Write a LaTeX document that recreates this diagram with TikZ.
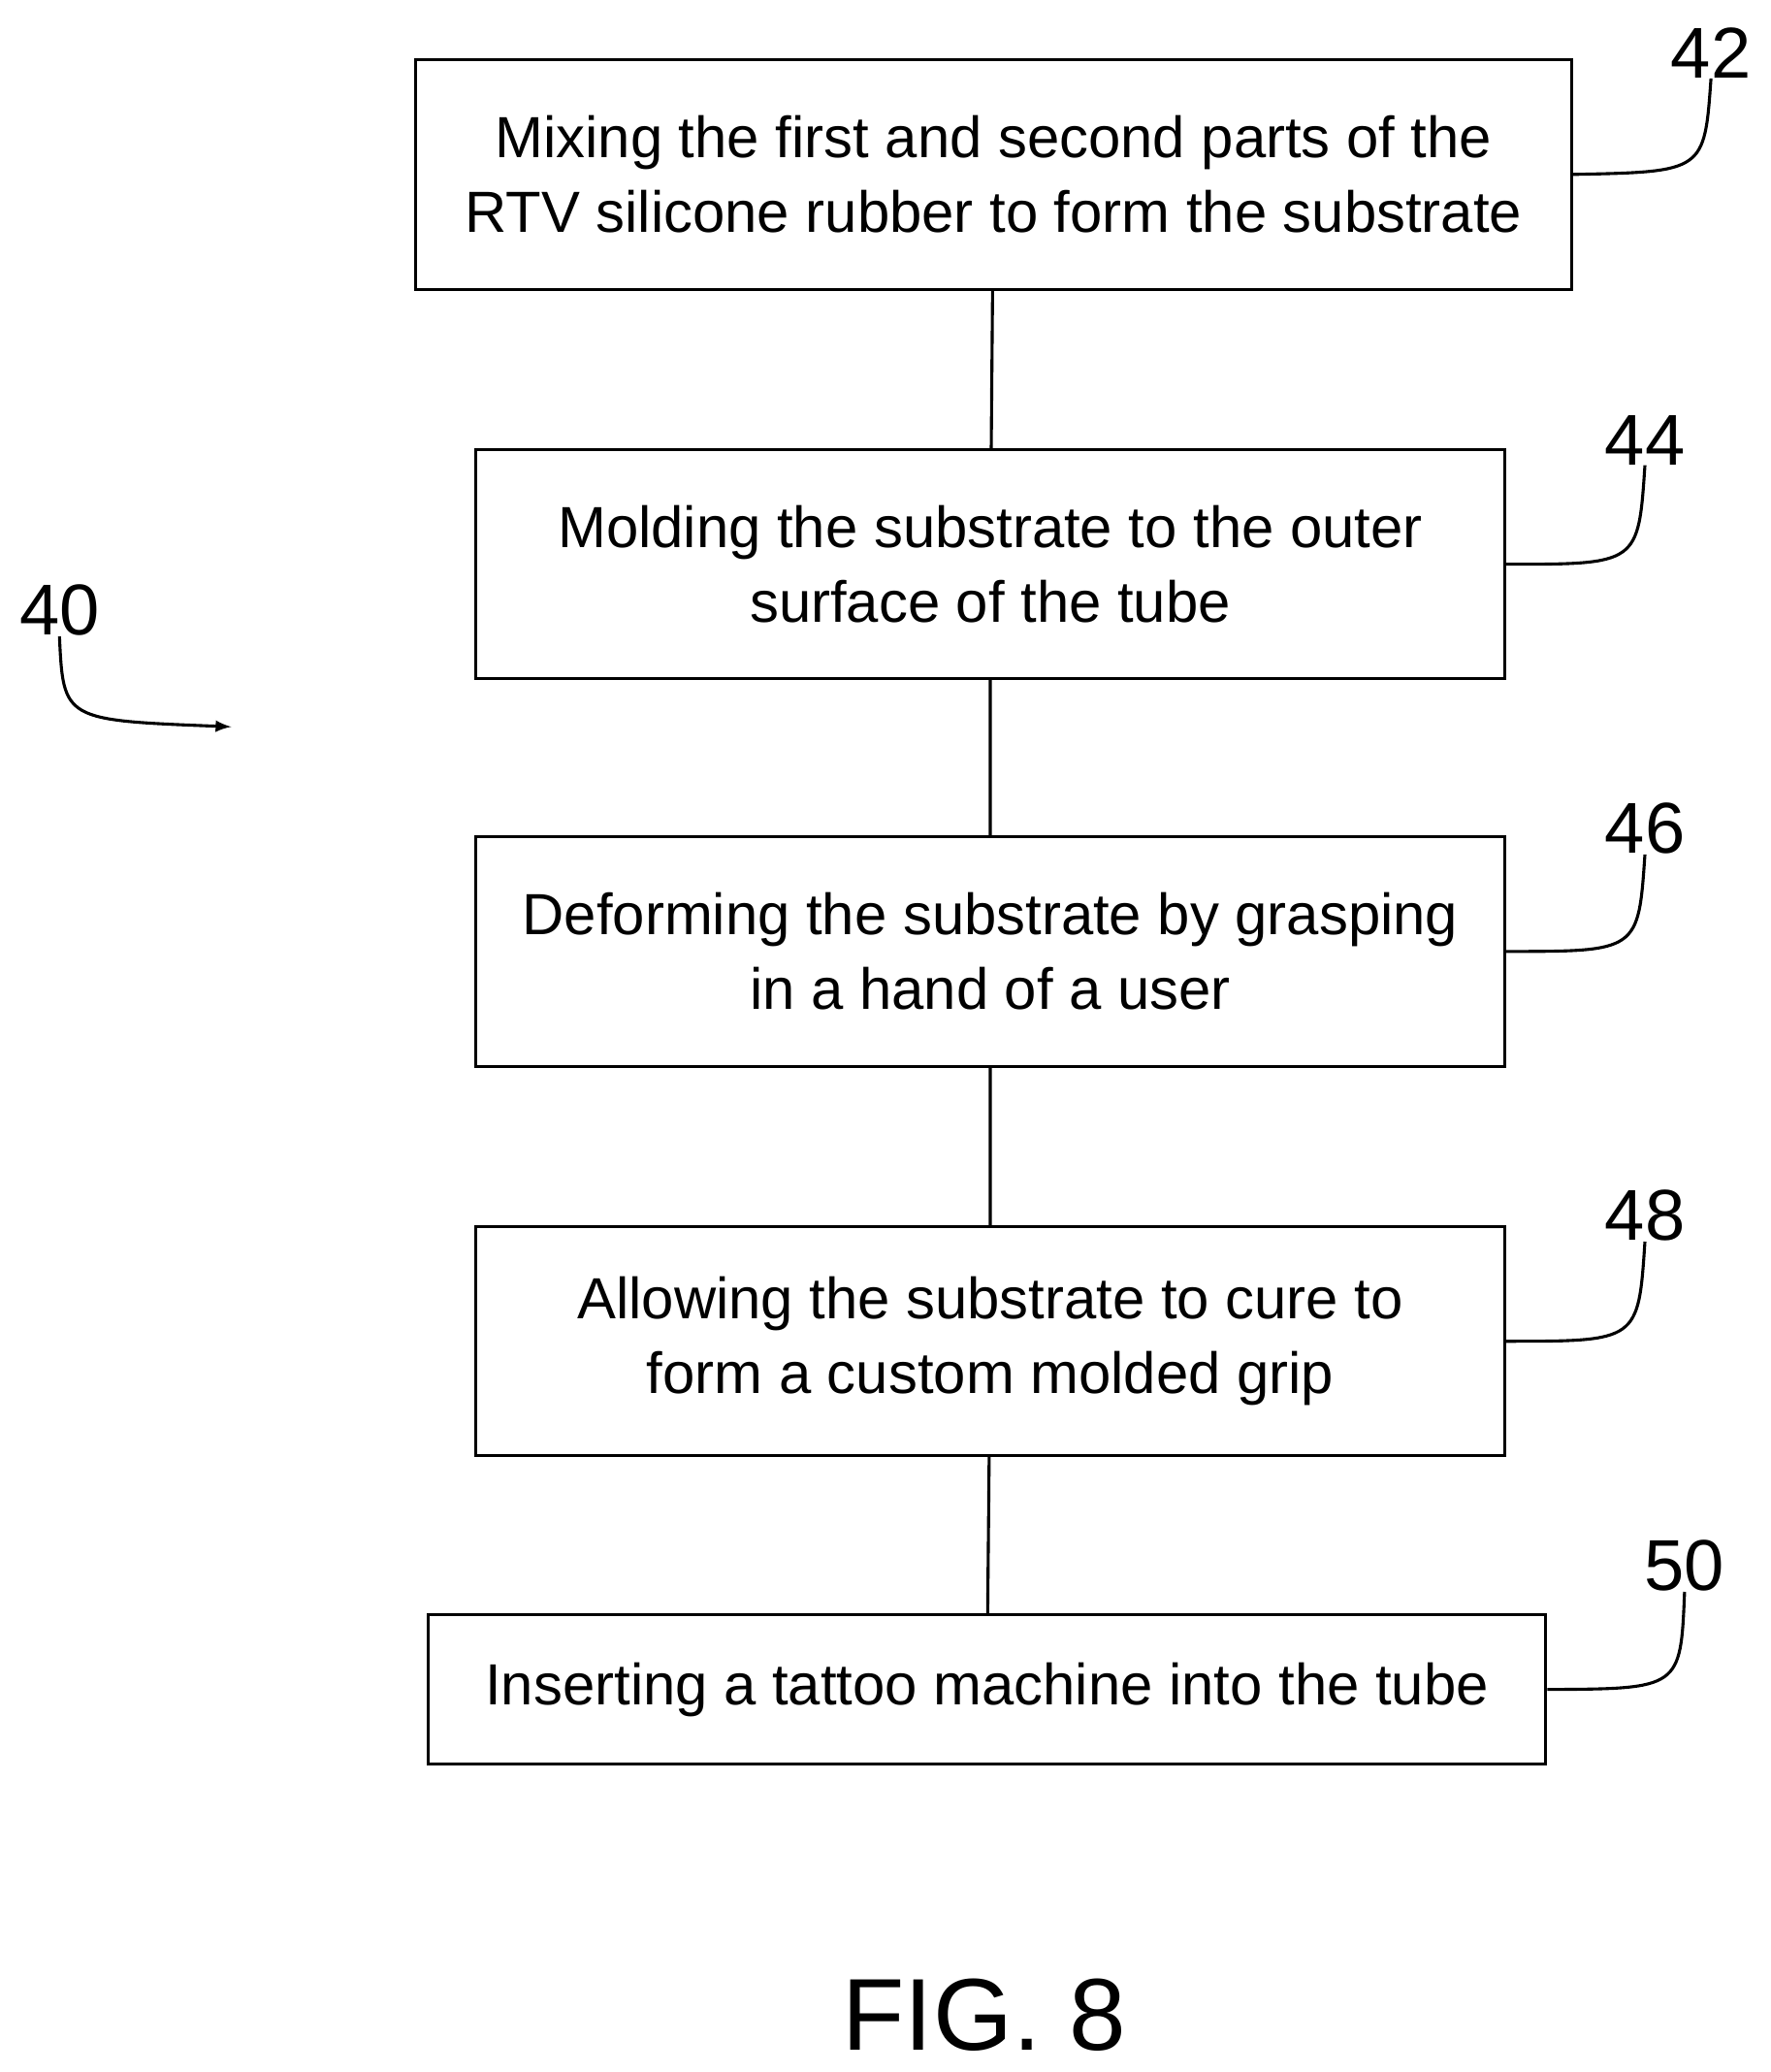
\documentclass[tikz,border=0pt]{standalone}
\usepackage{fontspec}
\setmainfont{Liberation Sans}
\usetikzlibrary{positioning}
\begin{document}
\begin{tikzpicture}[x=0.02cm, y=-0.02cm,
  stepbox/.style={draw=black, line width=1.3pt, fill=white, align=center, inner sep=0pt,
    font=\fontsize{25}{32}\selectfont},
  ref/.style={font=\fontsize{31}{31}\selectfont, inner sep=0pt}]
        \useasboundingbox (0,0) rectangle (1340,1568);
        \node[stepbox, minimum width=17.5cm, minimum height=3.48cm] (s42) at (752, 132) {Mixing the first and second parts of the\\RTV silicone rubber to form the substrate};
        \node[stepbox, minimum width=15.58cm, minimum height=3.46cm] (s44) at (749.5, 427) {Molding the substrate to the outer\\surface of the tube};
        \node[stepbox, minimum width=15.58cm, minimum height=3.48cm] (s46) at (749.5, 720) {Deforming the substrate by grasping\\in a hand of a user};
        \node[stepbox, minimum width=15.58cm, minimum height=3.46cm] (s48) at (749.5, 1015) {Allowing the substrate to cure to\\form a custom molded grip};
        \node[stepbox, minimum width=16.92cm, minimum height=2.26cm] (s50) at (747, 1278.5) {Inserting a tattoo machine into the tube};

        \draw[line width=1.3pt] (s42) -- (s44) -- (s46) -- (s48) -- (s50);

        \node[ref] (n42) at (1295, 40) {42};
        \node[ref] (n44) at (1245, 333) {44};
        \node[ref] (n46) at (1245, 627) {46};
        \node[ref] (n48) at (1245, 920) {48};
        \node[ref] (n50) at (1275, 1185) {50};
        \node[ref] (n40) at (45, 462) {40};

        \draw[line width=1.3pt] (s42.east) .. controls (1290,130) .. (n42.south);
        \draw[line width=1.3pt] (s44.east) .. controls (1240,427) .. (n44.south);
        \draw[line width=1.3pt] (s46.east) .. controls (1240,720) .. (n46.south);
        \draw[line width=1.3pt] (s48.east) .. controls (1240,1015) .. (n48.south);
        \draw[line width=1.3pt] (s50.east) .. controls (1272,1278) .. (n50.south);

        \coordinate (tip40) at (175, 550);
        \draw[line width=1.3pt, -latex] (n40.south) .. controls (48,545) .. (tip40);

        \node[font=\fontsize{44}{44}\selectfont] (fig) at (745, 1525) {FIG. 8};
\end{tikzpicture}
\end{document}
